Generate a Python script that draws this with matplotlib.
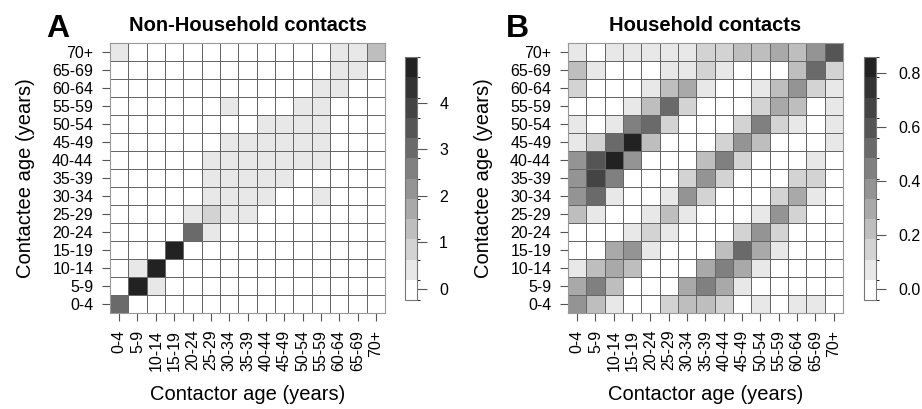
import numpy as np
import matplotlib
matplotlib.use("Agg")
import matplotlib.pyplot as plt
from matplotlib.colors import ListedColormap, BoundaryNorm

plt.rcParams['font.family'] = ['Liberation Sans', 'DejaVu Sans']

ages = ["0-4", "5-9", "10-14", "15-19", "20-24", "25-29", "30-34", "35-39",
        "40-44", "45-49", "50-54", "55-59", "60-64", "65-69", "70+"]

# rows listed from contactee 70+ (top) down to 0-4 (bottom)
non_household = [
    [0.4, 0, 0, 0, 0, 0, 0, 0, 0, 0, 0, 0, 0.4, 0.4, 1.3],
    [0, 0, 0, 0, 0, 0, 0, 0, 0, 0, 0, 0, 0.4, 0.4, 0],
    [0, 0, 0, 0, 0, 0, 0, 0, 0, 0, 0, 0.4, 0.4, 0, 0],
    [0, 0, 0, 0, 0, 0, 0.4, 0, 0, 0, 0.4, 0.4, 0, 0, 0],
    [0, 0, 0, 0, 0, 0, 0, 0, 0.4, 0.4, 0.4, 0.4, 0, 0, 0],
    [0, 0, 0, 0, 0, 0, 0.4, 0.4, 0.4, 0.4, 0.4, 0.4, 0, 0, 0],
    [0, 0, 0, 0, 0, 0.4, 0.4, 0.4, 0.4, 0.4, 0.4, 0.4, 0, 0, 0],
    [0, 0, 0, 0, 0, 0.4, 0.4, 0.4, 0.4, 0.4, 0, 0, 0, 0, 0],
    [0, 0, 0, 0, 0, 0.4, 0.4, 0.4, 0.4, 0, 0, 0.4, 0, 0, 0],
    [0, 0, 0, 0, 0.4, 0.85, 0.4, 0.4, 0, 0, 0, 0, 0, 0, 0],
    [0, 0, 0, 0, 3.05, 0.4, 0, 0, 0, 0, 0, 0, 0, 0, 0],
    [0, 0, 0, 4.75, 0, 0, 0, 0, 0, 0, 0, 0, 0, 0, 0],
    [0, 0.4, 4.75, 0, 0, 0, 0, 0, 0, 0, 0, 0, 0, 0, 0],
    [0, 4.75, 0.4, 0, 0, 0, 0, 0, 0, 0, 0, 0, 0, 0, 0],
    [3.05, 0, 0, 0, 0, 0, 0, 0, 0, 0, 0, 0, 0, 0, 0],
]

household = [
    [0.07, 0, 0.07, 0.07, 0.07, 0.07, 0.07, 0.15, 0.15, 0.22, 0.22, 0.30, 0.22, 0.37, 0.60],
    [0.22, 0.07, 0, 0, 0, 0.07, 0.07, 0.15, 0.07, 0, 0, 0, 0.22, 0.52, 0.15],
    [0.15, 0, 0, 0, 0.07, 0.22, 0.30, 0.07, 0, 0, 0.07, 0.22, 0.37, 0.15, 0.07],
    [0, 0, 0, 0.07, 0.22, 0.52, 0.15, 0, 0, 0, 0.15, 0.30, 0.22, 0, 0.07],
    [0.07, 0, 0.07, 0.45, 0.52, 0.15, 0, 0, 0, 0.15, 0.45, 0.15, 0.07, 0, 0.07],
    [0.07, 0.15, 0.52, 0.82, 0.22, 0, 0, 0, 0.15, 0.37, 0.22, 0, 0, 0, 0.07],
    [0.37, 0.60, 0.82, 0.37, 0, 0, 0, 0.22, 0.45, 0.15, 0, 0, 0, 0.07, 0],
    [0.37, 0.67, 0.45, 0, 0, 0, 0.15, 0.37, 0.15, 0, 0, 0, 0.15, 0.15, 0],
    [0.37, 0.52, 0.07, 0, 0, 0.07, 0.37, 0.15, 0, 0, 0, 0.15, 0.30, 0.07, 0],
    [0.22, 0.07, 0, 0, 0.07, 0.22, 0.07, 0, 0, 0, 0.07, 0.37, 0.15, 0, 0],
    [0, 0, 0, 0.07, 0.15, 0.07, 0, 0, 0, 0.15, 0.37, 0.15, 0, 0, 0],
    [0, 0, 0.30, 0.37, 0.07, 0, 0, 0, 0.22, 0.52, 0.30, 0.07, 0, 0, 0],
    [0.07, 0.22, 0.30, 0.22, 0, 0, 0, 0.30, 0.45, 0.30, 0.07, 0, 0, 0, 0],
    [0.30, 0.45, 0.22, 0, 0, 0, 0.30, 0.45, 0.30, 0.07, 0, 0, 0, 0, 0],
    [0.37, 0.22, 0.07, 0, 0, 0.15, 0.22, 0.22, 0.15, 0, 0.07, 0, 0.07, 0.07, 0],
]

cb_ticks_a = [0, 1, 2, 3, 4]
cb_ticks_b = [0.0, 0.2, 0.4, 0.6, 0.8]

grays = [1.0, 0.91, 0.827, 0.745, 0.663, 0.58, 0.5, 0.416, 0.333, 0.267, 0.2, 0.133]
cmap = ListedColormap([(g, g, g) for g in grays])

fig = plt.figure(figsize=(9.22, 4.09), dpi=100)

def panel(rect, cbrect, data, lo, hi, ticks, fmt, title, letter, lx):
    ax = fig.add_axes(rect)
    z = np.flipud(np.array(data, dtype=float))
    bounds = np.linspace(lo, hi, 13)
    norm = BoundaryNorm(bounds, cmap.N)
    mesh = ax.pcolormesh(z, cmap=cmap, norm=norm, edgecolors='#666666', linewidth=0.6)
    ax.set_xlim(0, 15)
    ax.set_ylim(0, 15)
    ax.set_xticks(np.arange(15) + 0.5)
    ax.set_yticks(np.arange(15) + 0.5)
    ax.set_xticklabels(ages, rotation=90)
    ax.set_yticklabels(ages)
    ax.tick_params(length=6, width=0.8, color='#555555', labelsize=11.5, pad=6)
    for s in ax.spines.values():
        s.set_color('#999999')
        s.set_linewidth(0.8)
    ax.set_xlabel("Contactor age (years)", fontsize=14.5, labelpad=10)
    ax.set_ylabel("Contactee age (years)", fontsize=14.5, labelpad=12)
    ax.set_title(title, fontsize=14.5, fontweight='bold', pad=9)
    fig.text(lx, 0.93, letter, fontsize=23, fontweight='bold', ha='left', va='center')

    cax = fig.add_axes(cbrect)
    cb = fig.colorbar(mesh, cax=cax, boundaries=bounds, ticks=ticks)
    cb.ax.set_yticklabels([fmt.format(t) for t in ticks])
    cb.ax.tick_params(length=7, width=0.8, color='#555555', labelsize=11.5, pad=9)
    cb.outline.set_edgecolor('#777777')
    cb.outline.set_linewidth(0.8)
    return ax

panel([0.1193, 0.2347, 0.2983, 0.660], [0.4393, 0.2665, 0.013, 0.594],
      non_household, -0.24, 4.99, cb_ticks_a, "{:g}", "Non-Household contacts", "A", 0.05)
panel([0.616, 0.2347, 0.2983, 0.660], [0.937, 0.2665, 0.013, 0.594],
      household, -0.04, 0.859, cb_ticks_b, "{:.1f}", "Household contacts", "B", 0.549)

fig.savefig("out.png", dpi=100)
